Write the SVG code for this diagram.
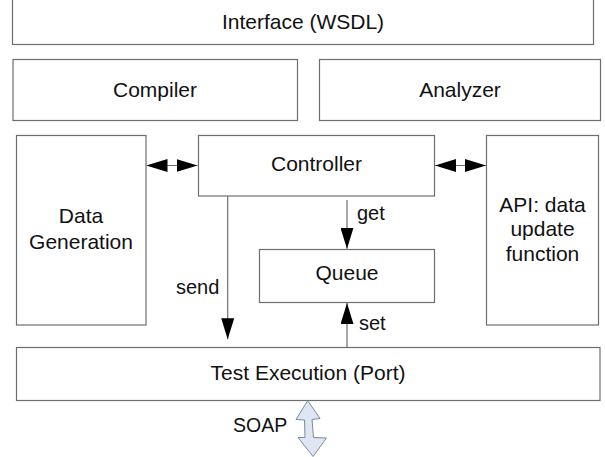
<svg xmlns="http://www.w3.org/2000/svg" width="605" height="457" viewBox="0 0 605 457">
<style>
.box{fill:#ffffff;stroke:#6e6e6e;stroke-width:1.2}
.lbl{font-family:"Liberation Sans",Arial,sans-serif;font-size:21px;fill:#111;text-anchor:middle}
.sm{font-family:"Liberation Sans",Arial,sans-serif;font-size:20px;fill:#111}
.con{stroke:#6e6e6e;stroke-width:1.2;fill:none}
</style>
<defs>
<marker id="ah" viewBox="0 0 21 13" refX="21" refY="6.5" markerWidth="21" markerHeight="13" markerUnits="userSpaceOnUse" orient="auto-start-reverse">
<path d="M0,0 L21,6.5 L0,13 z" fill="#000"/>
</marker>
</defs>
<rect width="605" height="457" fill="#fff"/>
<g id="interface">
<rect class="box" x="12.5" y="-1" width="581" height="45.5"/>
<text class="lbl" x="303" y="29">Interface (WSDL)</text>
</g>
<g id="compiler">
<rect class="box" x="13" y="59.5" width="284.5" height="61"/>
<text class="lbl" x="155" y="96.5">Compiler</text>
</g>
<g id="analyzer">
<rect class="box" x="319.5" y="59.5" width="281" height="61"/>
<text class="lbl" x="460" y="96.5">Analyzer</text>
</g>
<g id="datagen">
<rect class="box" x="16.5" y="135.5" width="129.5" height="189.5"/>
<text class="lbl" x="81" y="223">Data</text>
<text class="lbl" x="81" y="249">Generation</text>
</g>
<g id="controller">
<rect class="box" x="198.5" y="135.5" width="236" height="60.5"/>
<text class="lbl" x="316.5" y="171">Controller</text>
</g>
<g id="api">
<rect class="box" x="486.5" y="135.5" width="112" height="189.5"/>
<text class="lbl" x="542.5" y="211.5">API: data</text>
<text class="lbl" x="542.5" y="236">update</text>
<text class="lbl" x="542.5" y="260.5">function</text>
</g>
<g id="queue">
<rect class="box" x="259.5" y="249.5" width="175" height="53"/>
<text class="lbl" x="347" y="280">Queue</text>
</g>
<g id="testexec">
<rect class="box" x="16.5" y="347.5" width="583.5" height="53"/>
<text class="lbl" x="308" y="379.5">Test Execution (Port)</text>
</g>
<g id="connectors">
<line class="con" x1="146.5" y1="165.5" x2="197.5" y2="165.5" marker-start="url(#ah)" marker-end="url(#ah)"/>
<line class="con" x1="435" y1="165.5" x2="486" y2="165.5" marker-start="url(#ah)" marker-end="url(#ah)"/>
<line class="con" x1="227.7" y1="196" x2="227.7" y2="339.3" marker-end="url(#ah)"/>
<line class="con" x1="347" y1="200" x2="347" y2="248.8" marker-end="url(#ah)"/>
<line class="con" x1="347" y1="347.5" x2="347" y2="303" marker-end="url(#ah)"/>
<text class="sm" x="357" y="219.5">get</text>
<text class="sm" x="176" y="293.5">send</text>
<text class="sm" x="359" y="330">set</text>
<polygon points="307.7,400.7 320,418.5 312,419.5 313.5,437.5 326.5,438 313,456.5 298,437.5 305,437.5 304.5,420 296,419.5" fill="#dde6f2" stroke="#7f8a96" stroke-width="1"/>
<text class="sm" x="233" y="431.7" style="font-size:19.5px">SOAP</text>
</g>
</svg>
